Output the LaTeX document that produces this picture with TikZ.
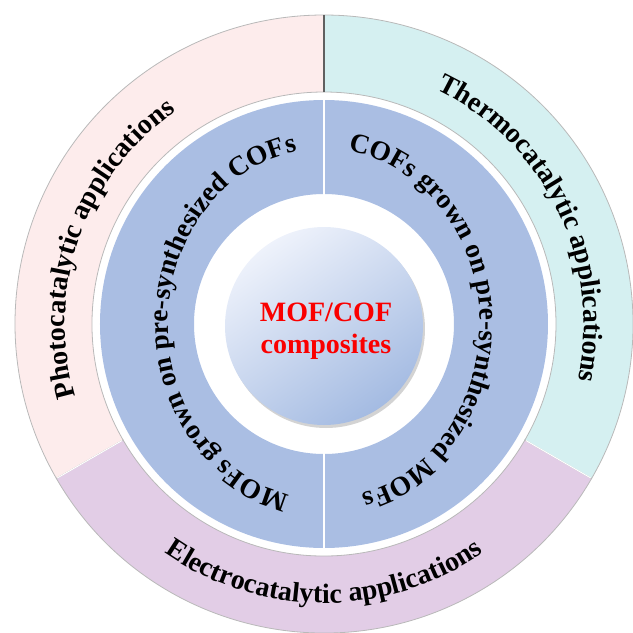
\documentclass[tikz,border=0pt]{standalone}
\usepackage{fontspec}
\setmainfont{Liberation Serif}
\usetikzlibrary{decorations.text,shadows,shadings}

\definecolor{pinkseg}{RGB}{253,236,236}
\definecolor{tealseg}{RGB}{213,240,241}
\definecolor{purpseg}{RGB}{226,205,230}
\definecolor{blueseg}{RGB}{170,190,227}
\definecolor{ballhi}{RGB}{238,242,251}
\definecolor{balllo}{RGB}{164,187,226}
\definecolor{centred}{RGB}{250,0,0}

\newcommand\outerfont{\fontsize{28}{28}\selectfont\bfseries}
\newcommand\innerfont{\fontsize{27.5}{27.5}\selectfont\bfseries}

\tikzset{
  segment/.style={draw=gray!55, line width=0.8pt},
  halfring/.style={fill=blueseg},
  centretext/.style={text=centred, font=\fontsize{28}{28}\selectfont\bfseries, anchor=base, inner sep=0pt},
}

\begin{document}
\begin{tikzpicture}
\useasboundingbox (-324pt,-309pt) rectangle (309pt,324pt);

% outer ring segments
\path[segment, fill=pinkseg] (90:309pt) arc[start angle=90, end angle=210, radius=309pt]
  -- (210:232pt) arc[start angle=210, end angle=90, radius=232pt] -- cycle;
\path[segment, fill=purpseg] (210:309pt) arc[start angle=210, end angle=330, radius=309pt]
  -- (330:232pt) arc[start angle=330, end angle=210, radius=232pt] -- cycle;
\path[segment, fill=tealseg] (-30:309pt) arc[start angle=-30, end angle=90, radius=309pt]
  -- (90:232pt) arc[start angle=90, end angle=-30, radius=232pt] -- cycle;
\draw[gray!75!black, line width=1.3pt] (90:232pt) -- (90:309pt);
\draw[white, line width=1pt] (210:233pt) -- (210:308pt);
\draw[white, line width=1pt] (330:233pt) -- (330:308pt);

% blue ring halves
\path[halfring] (90:224pt) arc[start angle=90, end angle=270, radius=224pt]
  -- (270:130pt) arc[start angle=270, end angle=90, radius=130pt] -- cycle;
\path[halfring] (-90:224pt) arc[start angle=-90, end angle=90, radius=224pt]
  -- (90:130pt) arc[start angle=90, end angle=-90, radius=130pt] -- cycle;
\draw[white, line width=2pt] (90:129pt) -- (90:225pt);
\draw[white, line width=2pt] (270:129pt) -- (270:225pt);

% centre ball
\shade[shading=axis, top color=ballhi, bottom color=balllo, shading angle=35,
  drop shadow={shadow xshift=2pt, shadow yshift=-3pt, opacity=0.35}]
  (0pt,-2pt) circle[radius=99pt];
\node[centretext] (mofcof) at (2pt,3pt) {MOF/COF};
\node[centretext] (composites) at (2pt,-29pt) {composites};

% outer ring texts
\path[decorate, decoration={text along path, text align=center,
  text={|\outerfont|Photocatalytic applications}}]
  (200:259pt) arc[start angle=200, end angle=121, radius=259pt];
\path[decorate, decoration={text along path, text align=center,
  text={|\outerfont|Thermocatalytic applications}}]
  (67:260pt) arc[start angle=67, end angle=-15, radius=260pt];
\path[decorate, decoration={text along path, text align=center,
  text={|\outerfont|Electrocatalytic applications}}]
  (230:279pt) arc[start angle=230, end angle=310, radius=279pt];

% inner ring texts
\path[decorate, decoration={text along path, text align=center,
  text={|\innerfont|MOFs grown on pre-synthesized COFs}}]
  (265:156pt and 175pt) arc[start angle=265, end angle=92, x radius=156pt, y radius=175pt];
\path[decorate, decoration={text along path, text align=center,
  text={|\innerfont|COFs grown on pre-synthesized MOFs}}]
  (88:156pt and 175pt) arc[start angle=88, end angle=-83, x radius=156pt, y radius=175pt];
\end{tikzpicture}
\end{document}
